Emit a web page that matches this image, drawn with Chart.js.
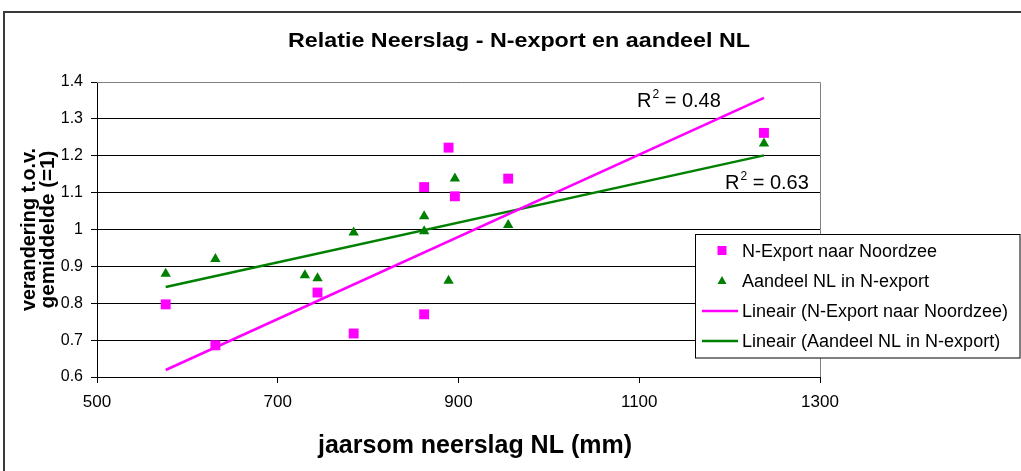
<!DOCTYPE html>
<html>
<head>
    <meta charset="UTF-8">
    <title>Relatie Neerslag - N-export en aandeel NL</title>
    <script src="https://cdn.jsdelivr.net/npm/chart.js"></script>
    <style>
        html, body { margin: 0; padding: 0; background: #fff; }
        #wrap { width: 1021px; height: 471px; }
    </style>
</head>
<body>
    <div id="wrap"><canvas id="chart" width="1021" height="471"></canvas></div>

    <script>
        // jaarsom neerslag (mm) en verandering t.o.v. gemiddelde
        const exportNeerslag = [576, 631, 744, 784, 862, 862, 889, 896, 955, 1238];
        const exportWaarde = [0.797, 0.686, 0.829, 0.718, 1.115, 0.770, 1.222, 1.090, 1.138, 1.262];

        const aandeelNeerslag = [576, 631, 730, 744, 784, 862, 862, 889, 896, 955, 1238];
        const aandeelWaarde = [0.880, 0.920, 0.876, 0.868, 0.992, 1.036, 0.995, 0.861, 1.138, 1.012, 1.233];

        const trendNeerslag = [576, 1238];
        const trendExport = [0.619, 1.357];
        const trendAandeel = [0.844, 1.201];
        const r2Waarden = ['0.48', '0.63'];

        const xTicks = [500, 700, 900, 1100, 1300];
        const yTicks = [0.6, 0.7, 0.8, 0.9, 1.0, 1.1, 1.2, 1.3, 1.4];

        const reeksNamen = [
            'N-Export naar Noordzee',
            'Aandeel NL in N-export',
            'Lineair (N-Export naar Noordzee)',
            'Lineair (Aandeel NL in N-export)'
        ];

        const ROZE = '#FF00FF';
        const GROEN = '#008000';
        const FONT = '"Liberation Sans", Arial, sans-serif';

        Chart.defaults.font.family = FONT;
        Chart.defaults.color = '#000';

        function punten(xs, ys) {
            return xs.map((x, i) => ({ x: x, y: ys[i] }));
        }

        // tekst tekenen, eventueel horizontaal geschaald naar een breedte
        function tekst(ctx, str, x, y, font, align, breedte) {
            ctx.save();
            ctx.font = font;
            ctx.fillStyle = '#000';
            ctx.textBaseline = 'alphabetic';
            const w = ctx.measureText(str).width;
            const sx = breedte ? breedte / w : 1;
            ctx.translate(x, y);
            ctx.scale(sx, 1);
            ctx.textAlign = align;
            ctx.fillText(str, 0, 0);
            ctx.restore();
        }

        function r2Label(ctx, x, y, waarde) {
            ctx.save();
            ctx.fillStyle = '#000';
            ctx.textBaseline = 'alphabetic';
            ctx.textAlign = 'left';
            ctx.font = '20px ' + FONT;
            ctx.fillText('R', x, y);
            let w = ctx.measureText('R').width;
            ctx.font = '12px ' + FONT;
            ctx.fillText('2', x + w + 1, y - 9);
            w += ctx.measureText('2').width + 1;
            ctx.font = '20px ' + FONT;
            ctx.fillText(' = ' + waarde, x + w, y);
            ctx.restore();
        }

        const kaderPlugin = {
            id: 'kader',
            beforeDraw(chart) {
                const ctx = chart.ctx;
                ctx.save();
                ctx.fillStyle = '#fff';
                ctx.fillRect(0, 0, chart.width, chart.height);
                ctx.strokeStyle = '#3a3a3a';
                ctx.lineWidth = 2;
                ctx.beginPath();
                ctx.moveTo(4, chart.height + 2);
                ctx.lineTo(4, 12);
                ctx.lineTo(chart.width + 2, 12);
                ctx.stroke();
                ctx.restore();
            },
            beforeDatasetsDraw(chart) {
                const a = chart.chartArea;
                const ctx = chart.ctx;
                ctx.save();
                ctx.strokeStyle = '#808080';
                ctx.lineWidth = 1;
                ctx.beginPath();
                ctx.moveTo(a.left, Math.round(a.top) + 0.5);
                ctx.lineTo(Math.round(a.right) + 0.5, Math.round(a.top) + 0.5);
                ctx.lineTo(Math.round(a.right) + 0.5, a.bottom);
                ctx.stroke();
                ctx.restore();
            },
            afterDraw(chart) {
                const ctx = chart.ctx;
                const a = chart.chartArea;

                // titels
                tekst(ctx, 'Relatie Neerslag - N-export en aandeel NL', 519, 47, 'bold 20px ' + FONT, 'center', 462);
                tekst(ctx, 'jaarsom neerslag NL (mm)', 475, 453, 'bold 25px ' + FONT, 'center');

                const midY = (a.top + a.bottom) / 2;
                ctx.save();
                ctx.translate(35, midY);
                ctx.rotate(-Math.PI / 2);
                tekst(ctx, 'verandering t.o.v.', 0, 0, 'bold 20px ' + FONT, 'center', 163);
                ctx.restore();
                ctx.save();
                ctx.translate(54, midY);
                ctx.rotate(-Math.PI / 2);
                tekst(ctx, 'gemiddelde (=1)', 0, 0, 'bold 20px ' + FONT, 'center', 158);
                ctx.restore();

                // R2 labels
                r2Label(ctx, 637, 107, r2Waarden[0]);
                r2Label(ctx, 725, 189, r2Waarden[1]);

                // legenda
                const lx = 695.5, ly = 234.5, lw = 324.5, lh = 123.5;
                ctx.save();
                ctx.fillStyle = '#fff';
                ctx.fillRect(lx, ly, lw, lh);
                ctx.strokeStyle = '#000';
                ctx.lineWidth = 1;
                ctx.strokeRect(lx, ly, lw, lh);

                const rijen = [257, 287, 317, 347];
                const mx = 722;
                // vierkant
                ctx.fillStyle = ROZE;
                ctx.fillRect(mx - 4.5, rijen[0] - 11, 9, 9);
                // driehoek
                ctx.fillStyle = GROEN;
                ctx.beginPath();
                ctx.moveTo(mx, rijen[1] - 11);
                ctx.lineTo(mx + 4.5, rijen[1] - 3);
                ctx.lineTo(mx - 4.5, rijen[1] - 3);
                ctx.closePath();
                ctx.fill();
                // lijnen
                ctx.lineWidth = 2.5;
                ctx.strokeStyle = ROZE;
                ctx.beginPath();
                ctx.moveTo(702, rijen[2] - 6);
                ctx.lineTo(738, rijen[2] - 6);
                ctx.stroke();
                ctx.strokeStyle = GROEN;
                ctx.beginPath();
                ctx.moveTo(702, rijen[3] - 6);
                ctx.lineTo(738, rijen[3] - 6);
                ctx.stroke();
                ctx.restore();

                reeksNamen.forEach((naam, i) => {
                    tekst(ctx, naam, 742, rijen[i], '18px ' + FONT, 'left');
                });
            }
        };

        const ctx = document.getElementById('chart').getContext('2d');
        new Chart(ctx, {
            type: 'scatter',
            data: {
                datasets: [
                    {
                        label: reeksNamen[0],
                        data: punten(exportNeerslag, exportWaarde),
                        pointStyle: 'rect',
                        pointRadius: 7,
                        backgroundColor: ROZE,
                        borderWidth: 0,
                        order: 1
                    },
                    {
                        label: reeksNamen[1],
                        data: punten(aandeelNeerslag, aandeelWaarde),
                        pointStyle: 'triangle',
                        pointRadius: 6,
                        backgroundColor: GROEN,
                        borderWidth: 0,
                        order: 0
                    },
                    {
                        label: reeksNamen[2],
                        data: punten(trendNeerslag, trendExport),
                        showLine: true,
                        pointRadius: 0,
                        borderColor: ROZE,
                        borderWidth: 2.5,
                        order: 2
                    },
                    {
                        label: reeksNamen[3],
                        data: punten(trendNeerslag, trendAandeel),
                        showLine: true,
                        pointRadius: 0,
                        borderColor: GROEN,
                        borderWidth: 2.5,
                        order: 2
                    }
                ]
            },
            options: {
                responsive: false,
                animation: false,
                events: [],
                layout: {
                    padding: { left: 0, top: 82, right: 201, bottom: 0 }
                },
                plugins: {
                    legend: { display: false },
                    title: { display: false },
                    tooltip: { enabled: false }
                },
                scales: {
                    x: {
                        type: 'linear',
                        min: 500,
                        max: 1300,
                        afterBuildTicks: s => { s.ticks = xTicks.map(v => ({ value: v })); },
                        afterFit: s => { s.height = 94; },
                        ticks: {
                            font: { size: 17 },
                            color: '#000',
                            padding: 9,
                            maxRotation: 0,
                            callback: v => String(v)
                        },
                        grid: {
                            drawOnChartArea: false,
                            drawTicks: true,
                            tickLength: 6,
                            color: '#000'
                        },
                        border: { color: '#000', width: 1 }
                    },
                    y: {
                        type: 'linear',
                        min: 0.6,
                        max: 1.4,
                        afterBuildTicks: s => { s.ticks = yTicks.map(v => ({ value: v })); },
                        afterFit: s => { s.width = 97; },
                        ticks: {
                            font: { size: 16 },
                            color: '#000',
                            padding: 8,
                            callback: v => String(Number(v.toFixed(1)))
                        },
                        grid: {
                            drawTicks: true,
                            tickLength: 6,
                            color: '#000'
                        },
                        border: { color: '#000', width: 1 }
                    }
                }
            },
            plugins: [kaderPlugin]
        });
    </script>
</body>
</html>
